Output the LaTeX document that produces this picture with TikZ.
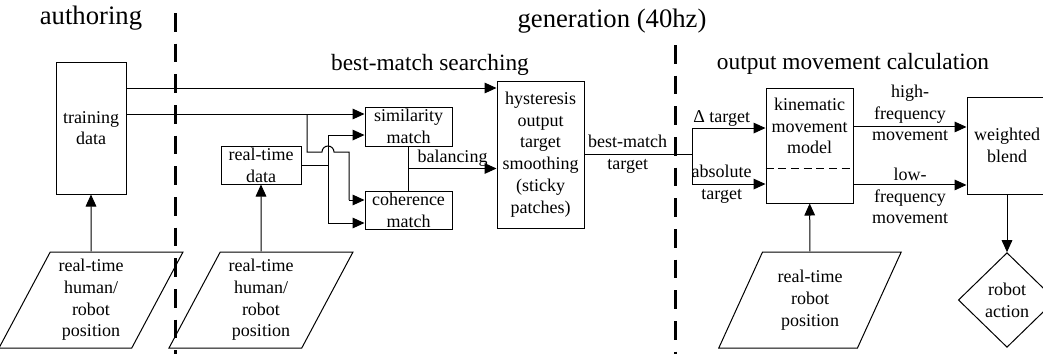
\documentclass[tikz,border=0pt]{standalone}
\usepackage{fontspec}
\setmainfont{Liberation Serif}
\usetikzlibrary{arrows.meta,positioning,shapes.geometric,calc}
\newcommand{\diagfont}{\fontsize{13.5}{16.3}\selectfont}
\tikzset{
  box/.style={draw, line width=0.75pt, align=center, inner sep=1pt, font=\diagfont},
  inpara/.style={draw, line width=0.75pt, trapezium, trapezium left angle=63.4, trapezium right angle=116.6, trapezium stretches=true, minimum width=138pt, minimum height=72pt, align=center, inner sep=0pt, font=\diagfont},
  outdia/.style={draw, line width=0.75pt, diamond, minimum width=73pt, minimum height=71pt, align=center, inner sep=0pt, font=\diagfont},
  title/.style={font=\fontsize{20}{24}\selectfont, anchor=base},
  subtitle/.style={font=\fontsize{17.5}{21}\selectfont, anchor=base},
  arrow/.style={-{Triangle[length=9pt,width=8pt]}, line width=0.75pt},
  wire/.style={line width=0.75pt},
  sep/.style={line width=2.25pt, dash pattern=on 14pt off 9pt},
  lbl/.style={font=\diagfont, align=center, inner sep=1pt}
}

\begin{document}
\begin{tikzpicture}[x=0.75pt,y=-0.75pt]
  \useasboundingbox (0,0) rectangle (1043,354);

  \node[title] (tauth) at (91,24) {authoring};
  \node[title] (tgen) at (612,27) {generation (40hz)};
  \node[subtitle] (tsearch) at (430,70) {best-match searching};
  \node[subtitle] (tcalc) at (853,69) {output movement calculation};

  \draw[sep] (175,13) -- (175,354);
  \draw[sep] (675,45) -- (675,354);

  % authoring
  \node[box, minimum width=52.5pt, minimum height=99pt] (train) at (91,128) {training\\data};
  \node[inpara] (pin1) at (91,300) {real-time\\human/\\robot\\position};
  \draw[arrow] (pin1) -- (train);

  % best-match searching
  \node[box, minimum width=60pt, minimum height=28.5pt] (rtd) at (261,165) {real-time\\data};
  \node[inpara] (pin2) at (261,300) {real-time\\human/\\robot\\position};
  \node[box, minimum width=65.25pt, minimum height=29.25pt] (sim) at (408.5,126.5) {similarity\\match};
  \node[box, minimum width=65.25pt, minimum height=28.5pt] (coh) at (408.5,210) {coherence\\match};
  \node[box, minimum width=65.25pt, minimum height=110.25pt] (hyst) at (540.5,154.5) {hysteresis\\output\\target\\smoothing\\(sticky\\patches)};
  \draw[arrow] (pin2) -- (rtd);

  \draw[arrow] ([yshift=30pt]train.east) -- ([yshift=30pt]train.east -| hyst.west);
  \draw[arrow] ([yshift=10.5pt]train.east) -- ([yshift=10.5pt]train.east -| sim.west);
  \coordinate (br1) at (307,114);
  \draw[wire] (br1) -- (307,152) -- (322,152) arc[start angle=180, end angle=0, radius=4.5pt]
    -- (349,152) -- (349,200) coordinate (br2);
  \draw[arrow] (br2) -- (br2 -| coh.west);

  \draw[wire] (rtd.east) -- ++(27,0) coordinate (j2);
  \draw[arrow] (j2) |- ([yshift=-6.4pt]sim.west);
  \draw[arrow] (j2) |- ([yshift=-9.75pt]coh.west);

  \draw[wire] (sim.south) -- (coh.north);
  \coordinate (bal) at ($(sim.south)!0.5!(coh.north)$);
  \draw[arrow] (bal) -- (bal -| hyst.west)
    node[lbl, midway, above] {balancing};

  % output movement calculation
  \node[box, minimum width=65.25pt, minimum height=86.25pt,
    label={[lbl, yshift=14.6pt]center:kinematic\\movement\\model}] (kin) at (809.5,145.5) {};
  \draw[line width=0.75pt, dash pattern=on 6pt off 3.5pt] ([yshift=-16.9pt]kin.west) -- ([yshift=-16.9pt]kin.east);
  \node[box, minimum width=60pt, minimum height=72.75pt] (blend) at (1007,145.5) {weighted\\blend};
  \node[outdia] (act) at (1007,300) {robot\\action};
  \node[inpara] (pin3) at (810,300) {real-time\\robot\\position};

  \draw[wire] (hyst.east) -- ++(108,0) coordinate (j3)
    node[lbl, pos=0.4] {best-match\\target};
  \draw[arrow] (j3) |- ([yshift=13.1pt]kin.west) node[lbl, pos=0.7, above] {Δ target};
  \draw[arrow] (j3) |- ([yshift=-28.9pt]kin.west) node[lbl, pos=0.7] {absolute\\target};

  \draw[arrow] ([yshift=13.9pt]kin.east) -- ([yshift=13.9pt]kin.east -| blend.west)
    node[lbl, midway, yshift=10.5pt] {high-\\frequency\\movement};
  \draw[arrow] ([yshift=-29.6pt]kin.east) -- ([yshift=-29.6pt]kin.east -| blend.west)
    node[lbl, midway, yshift=-8.25pt] {low-\\frequency\\movement};

  \draw[arrow] (pin3) -- (kin);
  \draw[arrow] (blend) -- (act);
\end{tikzpicture}
\end{document}
